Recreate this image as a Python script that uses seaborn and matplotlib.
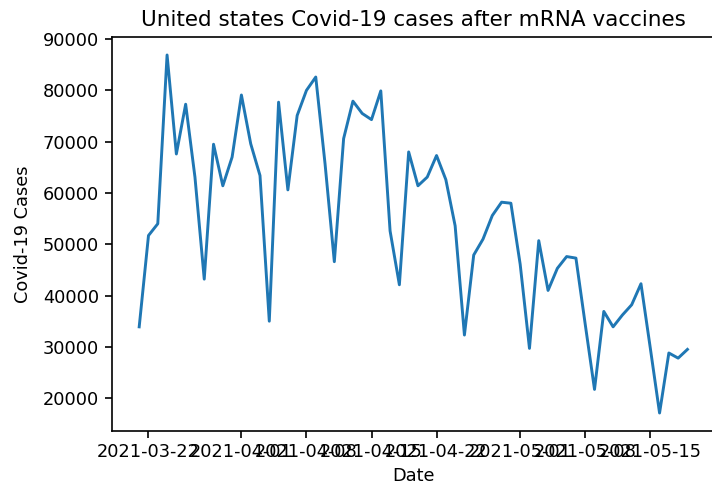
import pandas as pd
import numpy as np
import matplotlib
matplotlib.use("Agg")
import matplotlib.pyplot as plt
import seaborn as sns

# daily US cases, 2021-03-21 .. 2021-05-19
start_date = "2021-03-21"
cases = [33900, 51700, 54000, 86900, 67600, 77300, 63100, 43200, 69500, 61400,
         67000, 79100, 69600, 63400, 35000, 77700, 60600, 75100, 80000, 82600,
         65700, 46600, 70600, 77900, 75500, 74300, 79900, 52600, 42100, 68000,
         61400, 63100, 67300, 62600, 53600, 32300, 47900, 51000, 55600, 58200,
         58000, 46100, 29700, 50700, 41000, 45300, 47600, 47300, 34400, 21700,
         36900, 33900, 36200, 38200, 42300, 29800, 17100, 28800, 27800, 29500]

dates = pd.date_range(start_date, periods=len(cases), freq="D")
df = pd.DataFrame({"Date": dates, "Covid-19 Cases": cases})

plt.rcParams["font.size"] = 12.8
fig = plt.figure(figsize=(7.12, 4.88), dpi=100)
fig.subplots_adjust(left=0.157, right=1.004, bottom=0.117, top=0.924)
ax = fig.add_subplot(111)

sns.lineplot(data=df, x="Date", y="Covid-19 Cases", ax=ax, color="#1f77b4", linewidth=2.1)
ax.set_title("United states Covid-19 cases after mRNA vaccines", fontsize=15.5, pad=8)
ax.set_ylabel("Covid-19 Cases", labelpad=8)
ax.tick_params(length=5, width=1.2, pad=4)
for s in ax.spines.values():
    s.set_linewidth(1.2)

fig.savefig("out.png", dpi=100)
